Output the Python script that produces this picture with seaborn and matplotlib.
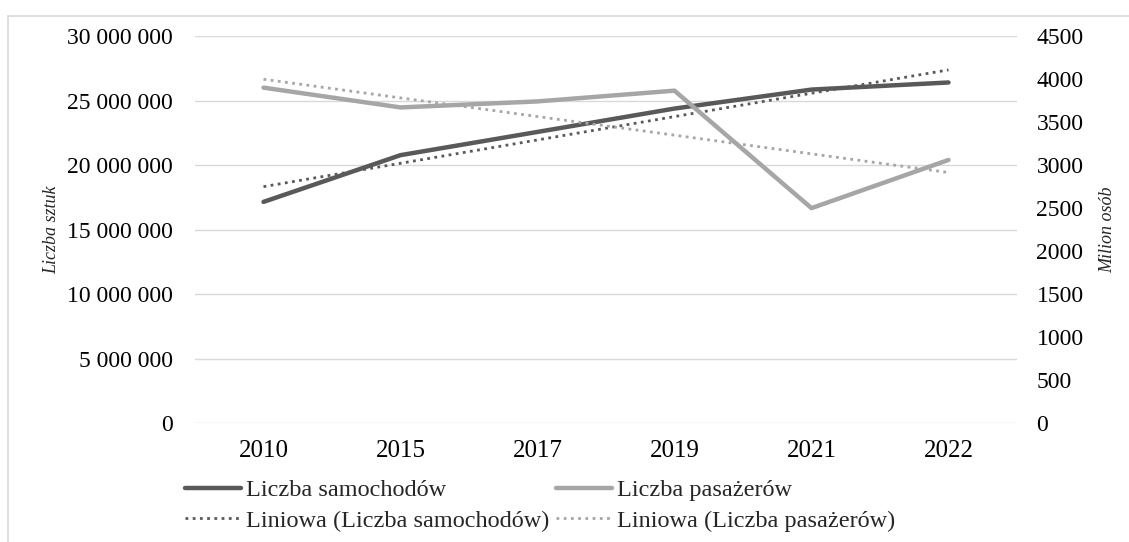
import matplotlib
matplotlib.use('Agg')
import matplotlib.pyplot as plt
import matplotlib.ticker as mticker
from matplotlib.lines import Line2D
import numpy as np
import pandas as pd
import seaborn as sns

# values
years = ['2010', '2015', '2017', '2019', '2021', '2022']
cars = [17150000, 20770000, 22570000, 24380000, 25850000, 26400000]   # Liczba samochodów (lewa oś)
passengers = [3900, 3670, 3740, 3865, 2500, 3060]                      # Liczba pasażerów, mln (prawa oś)

labels = ['Liczba samochodów', 'Liczba pasażerów',
          'Liniowa (Liczba samochodów)', 'Liniowa (Liczba pasażerów)']

DARK = '#595959'
LIGHT = '#A6A6A6'
GRID = '#D9D9D9'

df = pd.DataFrame({'rok': years, 'pos': np.arange(len(years)),
                   'samochody': cars, 'pasazerowie': passengers})

sns.set_style('white')
plt.rcParams['font.family'] = ['Liberation Serif', 'DejaVu Serif']

W, H = 1129, 542
fig = plt.figure(figsize=(W / 100, H / 100), dpi=100)
ax = fig.add_axes([195 / W, 1 - 423.3 / H, (1017 - 195) / W, (423.3 - 36) / H])
ax2 = ax.twinx()

# cars on left axis
sns.lineplot(data=df, x='pos', y='samochody', ax=ax, color=DARK, lw=3.2, legend=False)
l_cars = ax.lines[-1]
sns.regplot(data=df, x='pos', y='samochody', ax=ax, scatter=False, ci=None, truncate=True,
            line_kws=dict(color=DARK, lw=2.0, ls=(0, (1, 1.6))))
l_cars_tr = ax.lines[-1]

# passengers on right axis
sns.lineplot(data=df, x='pos', y='pasazerowie', ax=ax2, color=LIGHT, lw=3.2, legend=False)
l_pas = ax2.lines[-1]
sns.regplot(data=df, x='pos', y='pasazerowie', ax=ax2, scatter=False, ci=None, truncate=True,
            line_kws=dict(color=LIGHT, lw=2.0, ls=(0, (1, 1.6))))
l_pas_tr = ax2.lines[-1]

ax.set_xlim(-0.5, len(years) - 0.5)
ax.set_xticks(df['pos'], years)
ax.set_ylim(0, 30000000)
ax.set_yticks(np.arange(0, 30000001, 5000000))
ax.yaxis.set_major_formatter(mticker.FuncFormatter(lambda v, p: f'{v:,.0f}'.replace(',', ' ')))
ax2.set_ylim(0, 4500)
ax2.set_yticks(np.arange(0, 4501, 500))

ax.yaxis.grid(True, color=GRID, lw=1.0)
ax.set_axisbelow(True)
ax2.grid(False)
for a in (ax, ax2):
    for s in a.spines.values():
        s.set_visible(False)
    a.set_xlabel('')
    a.set_ylabel('')

ax.tick_params(axis='y', length=0, pad=16, labelsize=17, colors='black')
ax.tick_params(axis='x', length=0, pad=12, labelsize=18, colors='black')
ax2.tick_params(axis='y', length=0, pad=14, labelsize=17, colors='black')

fig.text(52 / W, 1 - 230 / H, 'Liczba sztuk', rotation=90, ha='center', va='center',
         fontsize=13, style='italic')
fig.text(1108 / W, 1 - 230 / H, 'Milion osób', rotation=90, ha='center', va='center',
         fontsize=13, style='italic')

fig.legend([l_cars, l_cars_tr, l_pas, l_pas_tr],
           [labels[0], labels[2], labels[1], labels[3]],
           ncol=2, loc='upper left', bbox_to_anchor=(185 / W, 1 - 479 / H),
           frameon=False, fontsize=17.5, handlelength=2.3, handletextpad=0.2,
           columnspacing=0.3, labelspacing=0.36, borderpad=0, borderaxespad=0)

# light frame around the chart (left and top edges visible)
fig.add_artist(Line2D([8 / W, 8 / W], [0, 1 - 16 / H], color=GRID, lw=1.2, transform=fig.transFigure))
fig.add_artist(Line2D([8 / W, 1], [1 - 16 / H, 1 - 16 / H], color=GRID, lw=1.2, transform=fig.transFigure))

fig.savefig('out.png', dpi=100)
